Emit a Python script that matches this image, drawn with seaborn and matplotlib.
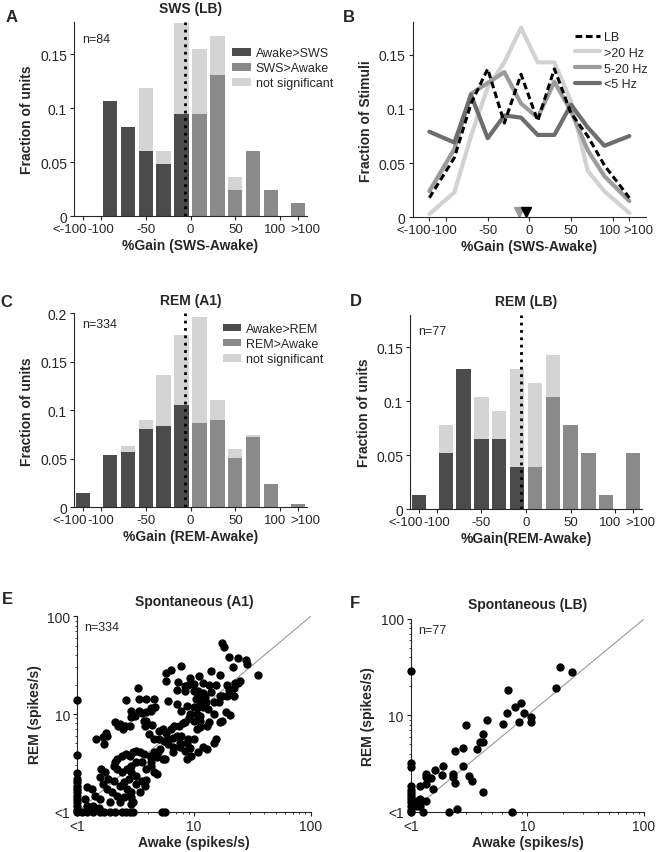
import numpy as np
import pandas as pd
import matplotlib
matplotlib.use("Agg")
import matplotlib.pyplot as plt
import seaborn as sns
from matplotlib.patches import Patch
from matplotlib.lines import Line2D
from matplotlib.transforms import ScaledTranslation

sns.set_style("ticks")
plt.rcParams['font.family'] = ['Liberation Sans', 'DejaVu Sans']
plt.rcParams['font.size'] = 10
plt.rcParams['axes.linewidth'] = 0.8
plt.rcParams['xtick.major.size'] = 3
plt.rcParams['ytick.major.size'] = 3
plt.rcParams['xtick.minor.size'] = 1.5
plt.rcParams['ytick.minor.size'] = 1.5
plt.rcParams['xtick.major.pad'] = 2
plt.rcParams['ytick.major.pad'] = 2
plt.rcParams['xtick.labelsize'] = 10
plt.rcParams['ytick.labelsize'] = 10

# ---- data ----
bin_pos = [-120, -90, -70, -50, -30, -10, 10, 30, 50, 70, 90, 120]
gain_ticks = [-120, -100, -50, 0, 50, 100, 120]
gain_ticklabels = ['<-100', '-100', '-50', '0', '50', '100', '>100']

# A: SWS (LB), n=84
sws_lb_sig = [0, 0.107, 0.083, 0.060, 0.048, 0.095, 0.095, 0.131, 0.024, 0.060, 0.024, 0.012]
sws_lb_tot = [0, 0.107, 0.083, 0.119, 0.060, 0.179, 0.155, 0.167, 0.036, 0.060, 0.024, 0.012]

# C: REM (A1), n=334
rem_a1_sig = [0.015, 0.054, 0.057, 0.081, 0.084, 0.105, 0.087, 0.090, 0.051, 0.072, 0.024, 0.003]
rem_a1_tot = [0.015, 0.054, 0.063, 0.090, 0.136, 0.178, 0.196, 0.111, 0.060, 0.075, 0.024, 0.003]

# D: REM (LB), n=77
rem_lb_sig = [0.013, 0.052, 0.130, 0.065, 0.065, 0.039, 0.039, 0.104, 0.078, 0.052, 0.013, 0.052]
rem_lb_tot = [0.013, 0.078, 0.130, 0.104, 0.091, 0.130, 0.117, 0.143, 0.078, 0.052, 0.013, 0.052]

# B: fraction of stimuli by band
stim_lb = [0.018, 0.055, 0.105, 0.137, 0.087, 0.132, 0.089, 0.137, 0.096, 0.075, 0.048, 0.018]
stim_gt20 = [0.003, 0.023, 0.075, 0.120, 0.143, 0.175, 0.143, 0.143, 0.107, 0.043, 0.024, 0.004]
stim_5_20 = [0.024, 0.063, 0.114, 0.124, 0.134, 0.105, 0.092, 0.125, 0.098, 0.062, 0.038, 0.015]
stim_lt5 = [0.079, 0.069, 0.113, 0.073, 0.094, 0.092, 0.076, 0.076, 0.104, 0.083, 0.066, 0.075]
median_pos = [-12, -4]

# E: spontaneous rates A1 (awake, REM) spikes/s; values <1 shown at 1
spont_a1 = [
    (17.3, 53), (18.0, 49), (20.0, 38), (24.0, 37.5), (27.9, 36), (28.3, 32.5), (21.7, 30.5),
    (7.7, 31.3), (6.3, 28), (5.75, 26.3), (13.9, 27.3), (16.7, 25.3), (35.6, 25.2), (11.1, 24.3),
    (9.2, 23.4), (5.8, 22), (7.3, 21.1), (8.4, 19.5), (8.9, 19.8), (9.9, 20.4), (11.9, 20.8),
    (13.5, 20), (15.4, 20), (19.1, 20), (22.5, 20.8), (24, 20.8), (20, 17.7), (22, 18.5), (25, 21.6),
    (7.2, 17.8), (8.4, 17.3), (9.9, 17.3), (10.8, 17.3), (10.9, 15.6), (12, 16.4), (12.5, 14.8),
    (13.9, 16.7), (16.7, 15.2), (17.5, 15.4), (19.1, 15.4), (22, 15.4), (10.4, 14.4), (11.3, 13.7),
    (12.7, 13.2), (14.7, 13.2), (16.5, 13.2), (3.3, 18.3), (3.9, 14.4), (4.5, 14.4), (4.3, 11.4),
    (3.4, 14.4), (6.0, 13.7), (7.1, 12.7), (8.65, 12.2), (9.9, 11.7), (10.9, 11.7), (12, 11.7),
    (13.3, 11.2), (7.8, 10.8), (9.2, 10.1), (10.5, 10), (11.3, 9.6), (14.7, 10), (18.7, 10.4),
    (20.4, 9.7), (9.1, 9.1), (11.3, 8.4), (13.5, 8.3), (16.7, 8.3), (17.5, 8.5), (2.6, 13.8),
    (2.86, 10.8), (3.4, 10.8), (3.6, 10.2), (3.9, 10.4), (4.3, 10.8), (4.6, 11.7), (3.7, 8.5),
    (3.9, 8.5), (3.8, 7.6), (4.4, 7.8), (4.1, 6.2), (3.1, 9.6), (2.9, 9.25), (2.8, 7.6), (2.56, 7.5),
    (2.45, 7.0), (2.1, 8.2), (2.25, 7.6), (2.3, 7.9), (1.44, 5.55), (1.67, 5.8), (1.81, 6.0),
    (1.69, 4.9), (1.76, 6.35), (1, 14), (1, 3.8), (1, 2.5), (1, 2.15), (1, 1.85), (1, 1.6),
    (1, 1.35), (1, 1.15), (1, 1.0), (1, 1.25), (1, 1.45), (1, 1.7), (1, 2.0), (1, 1.05),
    (5.05, 6.65), (5.4, 7.1), (5.8, 6.4), (6.3, 7.0), (6.7, 7.6), (7.4, 7.6), (8.0, 8.0), (8.4, 8.3),
    (4.5, 5.55), (5.0, 5.55), (5.5, 5.35), (6.0, 5.55), (6.6, 5.75), (7.1, 6.0), (7.8, 6.0),
    (8.9, 5.6), (9.9, 5.55), (8.65, 5.1), (7.6, 5.1), (6.0, 4.9), (6.65, 4.55), (7.6, 4.55),
    (8.4, 4.2), (9.2, 4.45), (6.65, 4.05), (5.65, 3.46), (5.4, 3.46), (4.95, 4.05), (4.5, 4.05),
    (4.2, 3.74), (3.7, 3.9), (3.45, 4.05), (3.2, 4.2), (3.0, 4.05), (2.8, 3.74), (2.6, 3.9),
    (2.4, 3.74), (2.2, 3.46), (2.1, 3.2), (2.05, 2.96), (2.17, 2.73), (2.4, 2.53), (2.65, 2.73),
    (2.9, 2.96), (3.2, 3.2), (3.55, 3.25), (3.9, 2.73), (4.25, 2.96), (3.9, 2.1), (3.55, 2.07),
    (3.2, 2.34), (2.9, 2.53), (2.75, 2.16), (2.5, 2.0), (2.3, 1.85), (2.05, 2.07), (1.84, 2.16),
    (1.74, 2.53), (1.6, 2.73), (1.56, 2.25), (1.67, 1.92), (1.78, 1.71), (1.97, 1.58), (2.17, 1.46),
    (2.5, 1.4), (2.75, 1.46), (2.9, 1.58), (2.65, 1.71), (2.3, 1.25), (1.9, 1.25), (1.56, 1.35),
    (1.42, 1.46), (1.33, 1.71), (1.22, 1.78), (1.16, 1.35), (1.22, 1.15), (1.37, 1.15), (1.54, 1.1),
    (1.1, 1), (1.2, 1), (1.35, 1), (1.55, 1), (1.7, 1), (1.9, 1), (2.1, 1), (2.4, 1), (2.6, 1),
    (2.85, 1), (3.0, 1), (5.3, 1), (5.6, 1), (3.0, 1.25), (2.9, 1.4), (4.3, 3.2), (4.8, 3.6),
    (5.1, 4.4), (8.65, 3.46), (9.5, 3.74), (10.8, 4.05), (12, 4.55), (12.8, 4.4), (14.7, 5.1),
    (15.4, 5.55), (10.5, 7.0), (11.3, 7.3), (12.8, 7.6), (9.9, 8.5), (4.5, 2.53), (4.8, 2.43),
    (3.2, 1.92), (3.45, 1.58), (3.8, 1.85), (2.9, 1.2),
]

# F: spontaneous rates LB (awake, REM)
spont_lb = [
    (1, 29), (17.6, 19.2), (19.1, 32), (24, 28), (6.8, 18.5), (6.65, 10.6), (7.8, 12.3),
    (8.8, 13.3), (9.4, 10.6), (8.5, 8.6), (10.7, 9.5), (10.7, 8.6), (6.15, 8.1), (4.5, 8.95),
    (2.98, 7.9), (4.2, 6.4), (3.93, 5.25), (4.2, 5.25), (3.73, 4.47), (2.4, 4.3), (2.8, 4.6),
    (2.8, 2.96), (3.18, 2.37), (3.33, 2.1), (4.2, 1.59), (2.29, 2.46), (2.3, 2.27), (2.4, 1.97),
    (1.88, 2.96), (1.84, 2.42), (1.62, 2.71), (1.56, 1.72), (1.49, 2.22), (1.35, 2.46),
    (1.35, 2.27), (1.2, 1.86), (1.35, 1.94), (1.19, 1.37), (1.35, 1.3), (1.2, 1.15), (1.27, 1),
    (2.14, 1), (2.48, 1.08), (7.4, 1), (1, 3.2), (1, 2.9), (1, 1.85), (1, 1.7), (1, 1.55),
    (1, 1.45), (1, 1.35), (1, 1.25), (1, 1.15), (1, 1.05), (1, 1), (1.14, 1.3), (1.13, 1.15),
]

c_dark = '#4b4b4b'
c_mid = '#8a8a8a'
c_light = '#d4d4d4'

fig = plt.figure(figsize=(6.56, 8.53), dpi=100)
axA = fig.add_axes([0.1128, 0.7456, 0.3552, 0.2274])
axB = fig.add_axes([0.6291, 0.7441, 0.3557, 0.2286])
axC = fig.add_axes([0.1128, 0.4041, 0.3552, 0.2274])
axD = fig.add_axes([0.6250, 0.4021, 0.3537, 0.2274])
axE = fig.add_axes([0.1179, 0.0472, 0.3558, 0.2291])
axF = fig.add_axes([0.6261, 0.0472, 0.3557, 0.2260])


def shift_xlabels(ax, shifts_px):
    # nudge crowded tick labels sideways (pixels)
    for lab, dx in zip(ax.get_xticklabels(), shifts_px):
        lab.set_fontsize(9.5)
        lab.set_transform(lab.get_transform() + ScaledTranslation(dx / 100, 0, fig.dpi_scale_trans))


def gain_hist(ax, tot, sig, names, ylim, yticks, yticklabels, xlabel, title, n_text, n_y):
    df = pd.DataFrame({'pos': bin_pos, 'tot': tot, 'sig': sig,
                       'grp': [names[0] if p < 0 else names[1] for p in bin_pos]})
    sns.barplot(data=df, x='pos', y='tot', native_scale=True, color=c_light, width=0.8,
                errorbar=None, linewidth=0, saturation=1, ax=ax)
    sns.barplot(data=df, x='pos', y='sig', hue='grp', palette=[c_dark, c_mid], native_scale=True,
                dodge=False, width=0.8, errorbar=None, linewidth=0, saturation=1, legend=False, ax=ax)
    ax.axvline(-6, color='black', ls=':', lw=2)
    ax.set_xlim(-130, 130)
    ax.set_ylim(*ylim)
    ax.set_xticks(gain_ticks)
    ax.set_xticklabels(gain_ticklabels)
    ax.set_yticks(yticks)
    ax.set_yticklabels(yticklabels)
    ax.set_xlabel(xlabel, fontweight='bold', fontsize=10, labelpad=2)
    ax.set_ylabel('Fraction of units', fontweight='bold', fontsize=10)
    ax.set_title(title, fontweight='bold', fontsize=10, pad=7)
    ax.text(0.035, n_y, n_text, transform=ax.transAxes, fontsize=9, va='center')
    sns.despine(ax=ax)


gain_hist(axA, sws_lb_tot, sws_lb_sig, ['Awake>SWS', 'SWS>Awake'], (0, 0.18),
          [0, 0.05, 0.1, 0.15], ['0', '0.05', '0.1', '0.15'],
          '%Gain (SWS-Awake)', 'SWS (LB)', 'n=84', 0.91)
gain_hist(axC, rem_a1_tot, rem_a1_sig, ['Awake>REM', 'REM>Awake'], (0, 0.2),
          [0, 0.05, 0.1, 0.15, 0.2], ['0', '0.05', '0.1', '0.15', '0.2'],
          '%Gain (REM-Awake)', 'REM (A1)', 'n=334', 0.945)
gain_hist(axD, rem_lb_tot, rem_lb_sig, ['Awake>REM', 'REM>Awake'], (0, 0.18),
          [0, 0.05, 0.1, 0.15], ['0', '0.05', '0.1', '0.15'],
          '%Gain(REM-Awake)', 'REM (LB)', 'n=77', 0.92)


def patch_legend(ax, names, anchor):
    handles = [Patch(facecolor=c, edgecolor='none') for c in (c_dark, c_mid, c_light)]
    ax.legend(handles, names, loc='upper left', bbox_to_anchor=anchor, frameon=False,
              fontsize=9, handlelength=1.5, handleheight=0.55, handletextpad=0.35,
              labelspacing=0.25, borderpad=0, borderaxespad=0)


patch_legend(axA, ['Awake>SWS', 'SWS>Awake', 'not significant'], (0.68, 0.87))
patch_legend(axC, ['Awake>REM', 'REM>Awake', 'not significant'], (0.638, 0.95))

# B: line plot
bands = [('>20 Hz', stim_gt20, '#d2d2d2', '-', 3.0),
         ('5-20 Hz', stim_5_20, '#9b9b9b', '-', 3.0),
         ('<5 Hz', stim_lt5, '#6d6d6d', '-', 3.0),
         ('LB', stim_lb, 'black', (0, (2.2, 1.2)), 2.2)]
for name, vals, col, ls, lw in bands:
    sns.lineplot(x=bin_pos, y=vals, color=col, linestyle=ls, linewidth=lw, ax=axB)
axB.plot(median_pos[0], 0.005, marker='v', color='#9b9b9b', ms=7, clip_on=False, ls='none')
axB.plot(median_pos[1], 0.005, marker='v', color='black', ms=7, clip_on=False, ls='none')
axB.set_xlim(-140, 140)
axB.set_ylim(0, 0.18)
axB.set_xticks(gain_ticks)
axB.set_xticklabels(gain_ticklabels)
axB.set_yticks([0, 0.05, 0.1, 0.15])
axB.set_yticklabels(['0', '0.05', '0.1', '0.15'])
axB.set_xlabel('%Gain (SWS-Awake)', fontweight='bold', fontsize=10, labelpad=2)
axB.set_ylabel('Fraction of Stimuli', fontweight='bold', fontsize=10)
sns.despine(ax=axB)
leg_handles = [Line2D([], [], color='black', ls=(0, (2.2, 1.2)), lw=2.2),
               Line2D([], [], color='#d2d2d2', lw=3),
               Line2D([], [], color='#9b9b9b', lw=3),
               Line2D([], [], color='#6d6d6d', lw=3)]
axB.legend(leg_handles, ['LB', '>20 Hz', '5-20 Hz', '<5 Hz'], loc='upper left',
           bbox_to_anchor=(0.696, 0.955), frameon=False, fontsize=9, handlelength=2.0,
           handletextpad=0.3, labelspacing=0.3, borderpad=0, borderaxespad=0)


def spont_scatter(ax, pts, title, n_text):
    df = pd.DataFrame(pts, columns=['awake', 'rem'])
    ax.plot([1, 100], [1, 100], color='#999999', lw=0.8, zorder=1)
    sns.scatterplot(data=df, x='awake', y='rem', color='black', s=36, linewidth=0,
                    clip_on=False, zorder=3, ax=ax)
    ax.set_xscale('log')
    ax.set_yscale('log')
    ax.set_xlim(1, 100)
    ax.set_ylim(1, 100)
    ax.set_xticks([1, 10, 100])
    ax.set_xticklabels(['<1', '10', '100'])
    ax.set_yticks([1, 10, 100])
    ax.set_yticklabels(['<1', '10', '100'])
    ax.set_xlabel('Awake (spikes/s)', fontweight='bold', fontsize=10, labelpad=2)
    ax.set_ylabel('REM (spikes/s)', fontweight='bold', fontsize=10)
    ax.set_title(title, fontweight='bold', fontsize=10, pad=8)
    ax.text(0.03, 0.945, n_text, transform=ax.transAxes, fontsize=9, va='center')
    sns.despine(ax=ax)


spont_scatter(axE, spont_a1, 'Spontaneous (A1)', 'n=334')
spont_scatter(axF, spont_lb, 'Spontaneous (LB)', 'n=77')

# crowded gain labels: nudge the outer ones like the original
for ax in (axA, axC, axD):
    shift_xlabels(ax, [-13, 0, 0, 0, 0, -5, 7])
shift_xlabels(axB, [-16, -2, 0, 0, 0, -3, 9])

for letter, x, y in [('A', 0.008, 0.979), ('B', 0.522, 0.979), ('C', 0.0, 0.645),
                     ('D', 0.533, 0.646), ('E', 0.003, 0.297), ('F', 0.533, 0.293)]:
    fig.text(x, y, letter, fontsize=12, fontweight='bold', va='center')

fig.savefig('out.png', dpi=100)
